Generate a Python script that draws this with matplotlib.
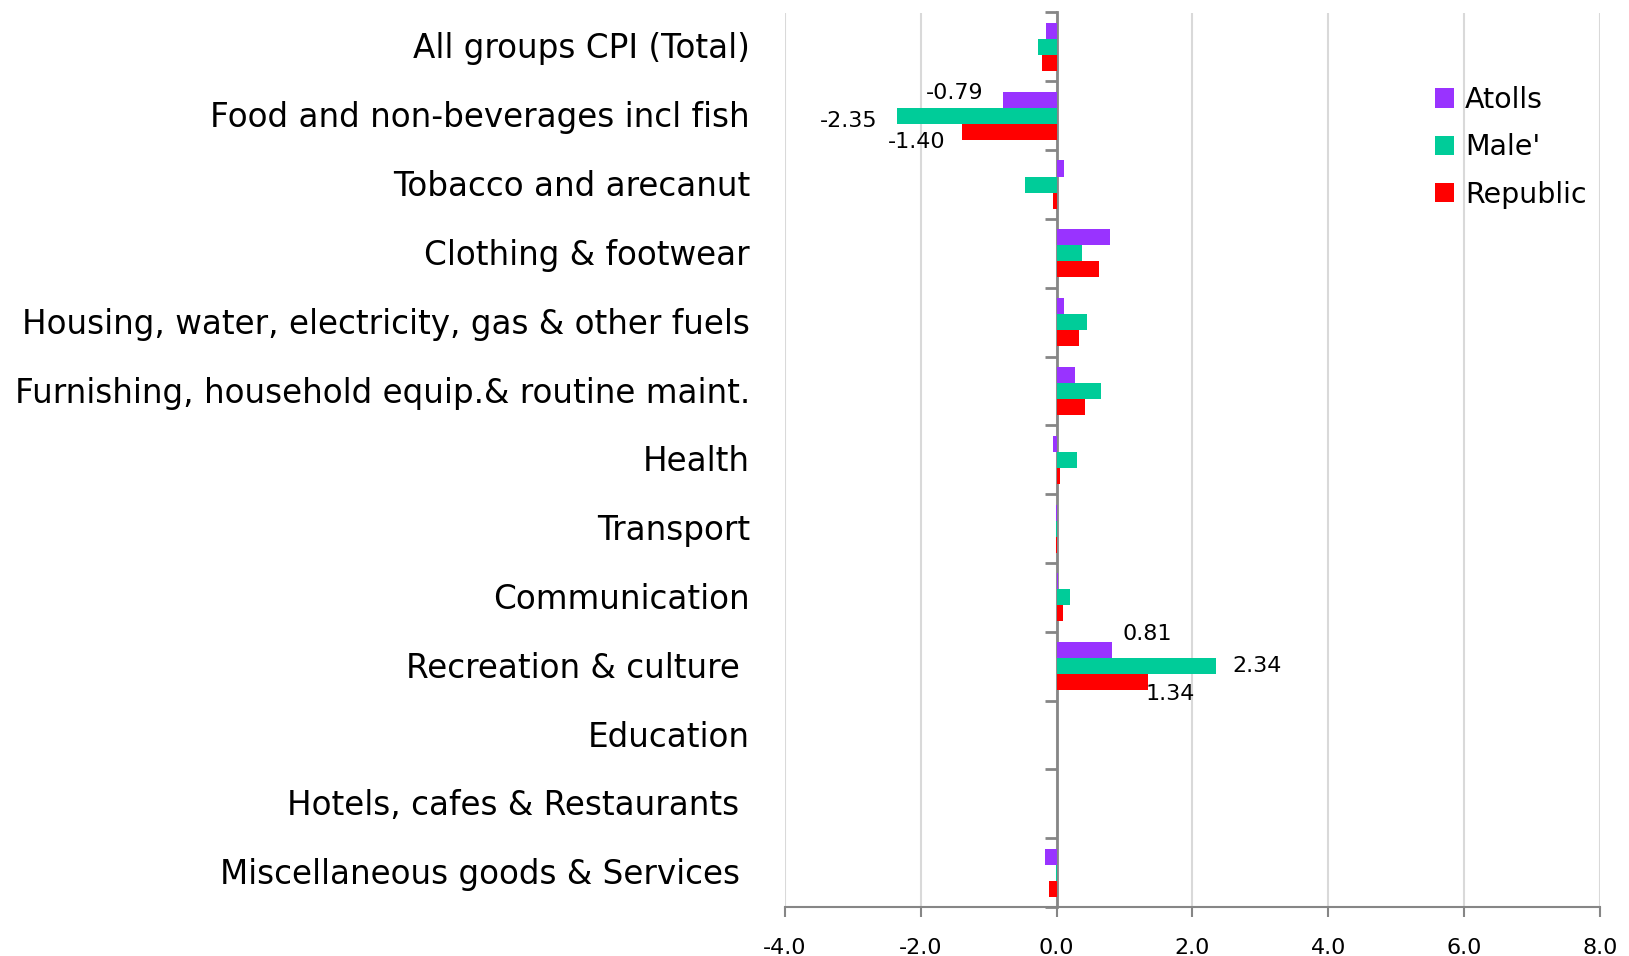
import numpy as np
import matplotlib
matplotlib.use("Agg")
import matplotlib.pyplot as plt
from matplotlib.ticker import FixedLocator

plt.rcParams["font.family"] = ["DejaVu Sans"]

# данные
categories = [
    "All groups CPI (Total)",
    "Food and non-beverages incl fish",
    "Tobacco and arecanut",
    "Clothing & footwear",
    "Housing, water, electricity, gas & other fuels",
    "Furnishing, household equip.& routine maint.",
    "Health",
    "Transport",
    "Communication",
    "Recreation & culture ",
    "Education",
    "Hotels, cafes & Restaurants ",
    "Miscellaneous goods & Services ",
]
atolls = [-0.15, -0.79, 0.11, 0.79, 0.11, 0.27, -0.06, -0.01, 0.02, 0.81, 0.0, 0.0, -0.17]
male = [-0.27, -2.35, -0.46, 0.37, 0.45, 0.66, 0.30, -0.01, 0.19, 2.34, 0.0, 0.0, -0.01]
republic = [-0.21, -1.40, -0.05, 0.63, 0.33, 0.42, 0.05, -0.01, 0.10, 1.34, 0.0, 0.0, -0.11]
series_names = ["Atolls", "Male'", "Republic"]
colors = ["#9933FF", "#00CC99", "#FF0000"]
xticks = [-4, -2, 0, 2, 4, 6, 8]

fig = plt.figure(figsize=(16.29, 9.56), dpi=100)
ax = fig.add_axes([785 / 1629, 1 - 907 / 956, 815 / 1629, (907 - 12.5) / 956])

n = len(categories)
y = np.arange(n)
h = 0.233
for k, (vals, name, c) in enumerate(zip([atolls, male, republic], series_names, colors)):
    ax.barh(y + (k - 1) * h, vals, height=h, color=c, label=name, zorder=3)

ax.set_xlim(-4, 8)
ax.set_ylim(n - 0.5, -0.5)
ax.set_xticks(xticks)
ax.set_xticklabels(["%.1f" % v for v in xticks], fontsize=16)
ax.tick_params(axis="x", length=7, width=1.5, color="#868686", pad=15)
ax.grid(axis="x", color="#D9D9D9", linewidth=1.5, zorder=0)

ax.spines["left"].set_position(("data", 0))
ax.spines["left"].set_color("#868686")
ax.spines["left"].set_linewidth(2)
ax.spines["bottom"].set_color("#868686")
ax.spines["bottom"].set_linewidth(1.5)
ax.spines["top"].set_visible(False)
ax.spines["right"].set_visible(False)
ax.set_yticks([])
ax.yaxis.set_minor_locator(FixedLocator(np.arange(n + 1) - 0.5))
ax.tick_params(axis="y", which="minor", length=9, width=2, color="#868686", direction="out")

# подписи категорий
for i, cat in enumerate(categories):
    ax.text(-0.043, i + 0.03, cat, transform=ax.get_yaxis_transform(), ha="right",
            va="center", fontsize=23.5)

# подписи значений
labels = [
    (atolls[1], 1 - h, "-0.79", (-48, 7), "center"),
    (male[1], 1, "-2.35", (-20, -5), "right"),
    (republic[1], 1 + h, "-1.40", (-45, -10), "center"),
    (atolls[9], 9 - h, "0.81", (36, 16), "center"),
    (male[9], 9, "2.34", (17, 0), "left"),
    (republic[9], 9 + h, "1.34", (23, -12), "center"),
]
for xv, yv, txt, off, ha in labels:
    ax.annotate(txt, (xv, yv), xytext=off, textcoords="offset pixels",
                ha=ha, va="center", fontsize=16)

ax.legend(loc="upper left", bbox_to_anchor=(1435 / 1629, 1 - 86 / 956),
          bbox_transform=fig.transFigure, frameon=False, fontsize=20.5,
          handlelength=0.65, handleheight=0.65, handletextpad=0.4,
          borderpad=0, borderaxespad=0, labelspacing=0.68)

plt.savefig("out.png", dpi=100)
